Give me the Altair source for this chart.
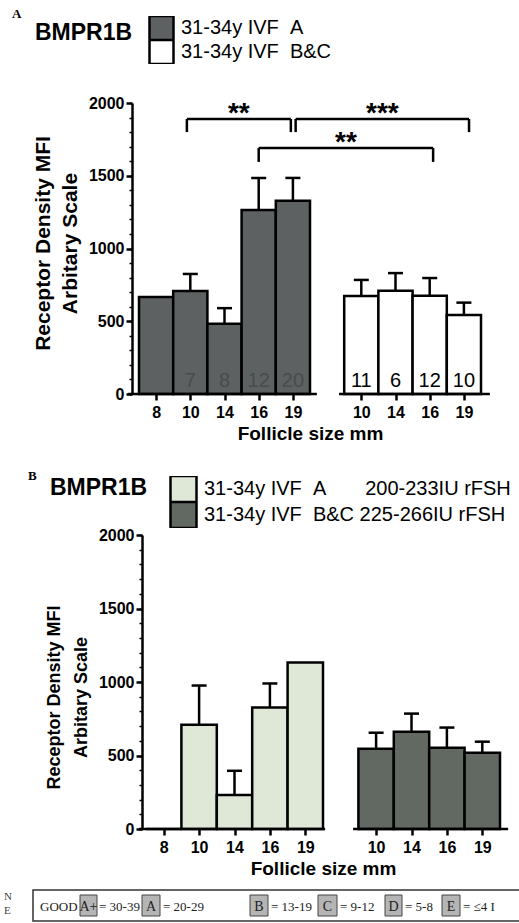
import altair as alt
import pandas as pd

FONT = "Liberation Sans"
SERIF = "Liberation Serif"
NB = "\u00a0"

# ---------------- data ----------------
follicle_left = ["8", "10", "14", "16", "19"]
follicle_right = ["10", "14", "16", "19"]

a_ivfA_mean = [667, 708, 482, 1265, 1329]
a_ivfA_errtop = [None, 825, 590, 1485, 1485]
a_ivfA_n = ["", "7", "8", "12", "20"]
a_ivfBC_mean = [674, 710, 676, 543]
a_ivfBC_errtop = [784, 831, 797, 628]
a_ivfBC_n = ["11", "6", "12", "10"]

b_ivfA_mean = [0, 710, 232, 826, 1133]
b_ivfA_errtop = [None, 976, 396, 990, None]
b_ivfBC_mean = [546, 662, 553, 519]
b_ivfBC_errtop = [655, 785, 690, 594]

legend_a = [f"31-34y IVF{NB*2}A", f"31-34y IVF{NB*2}B&C"]
legend_b = [f"31-34y IVF{NB*2}A{NB*7}200-233IU rFSH",
            f"31-34y IVF{NB*2}B&C{NB}225-266IU rFSH"]

sig_text = ["**", "***", "**"]
sig_from = [1, 4, 3]          # bar slot index
sig_to = [4, 9, 8]
sig_top = [1890, 1890, 1690]
sig_leg = [1800, 1800, 1595]

y_ticks = [0, 500, 1000, 1500, 2000]
y_minor = list(range(0, 2001, 100))

grades = ["A+", "A", "B", "C", "D", "E"]
grade_ranges = ["= 30-39", "= 20-29", "= 13-19", "= 9-12", "= 5-8", "= \u22644 I"]

# ---------------- layout / style ----------------
W, H = 519, 923
sig_nudge_from = [-0.1, 0.08, 0.0]
sig_nudge_to = [-0.06, 0.15, 0.1]

colors_a = ["#5d6162", "#ffffff"]
colors_b = ["#dfe7d6", "#626862"]

grade_x0 = [80, 142, 250, 318, 385, 442]
grade_x1 = [97, 160, 268, 337, 402, 460]
range_x = [99, 163, 271, 340, 405, 463]

GAP_SLOT = len(follicle_left)
tick_slots = list(range(len(follicle_left))) + [GAP_SLOT + 1 + j for j in range(len(follicle_right))]
tick_labels = follicle_left + [""] + follicle_right
label_expr = "[" + ",".join(f"'{t}'" for t in tick_labels) + "][datum.value]"


def build(mean_l, err_l, mean_r, err_r, groups, n_l=None, n_r=None):
    rows = []
    for i, s in enumerate(follicle_left):
        rows.append(dict(slot=i, size=s, mean=mean_l[i], err=err_l[i], group=groups[0],
                         n=(n_l[i] if n_l else "")))
    for j, s in enumerate(follicle_right):
        rows.append(dict(slot=GAP_SLOT + 1 + j, size=s, mean=mean_r[j], err=err_r[j], group=groups[1],
                         n=(n_r[j] if n_r else "")))
    df = pd.DataFrame(rows)
    df["lo"] = df["slot"] - 0.5
    df["hi"] = df["slot"] + 0.5
    df["base"] = 0
    return df


def panel(df, groups, colors, geo, leg, with_n, ytitle_size, title_y, brackets=None):
    xs = alt.Scale(domain=[-0.5, 9.5], range=[geo["x0"], geo["x1"]], nice=False, zero=False)
    ys = alt.Scale(domain=[0, 2000], range=[geo["y0"], geo["y1"]], nice=False, zero=False)

    xaxis = alt.Axis(orient="bottom", offset=geo["y0"] - H, values=tick_slots, labelExpr=label_expr,
                     domain=False, grid=False, tickColor="black", tickWidth=2.5, tickSize=6,
                     labelFont=FONT, labelFontSize=16, labelFontWeight="bold", labelColor="black",
                     labelPadding=4, labelFlush=False, labelOverlap=False,
                     title="Follicle size mm", titleFont=FONT, titleFontSize=19, titleFontWeight="bold",
                     titleColor="black", titlePadding=4)
    yaxis = alt.Axis(orient="left", offset=-geo["axis_x"], values=y_ticks, format="d",
                     domain=True, domainColor="black", domainWidth=2.5, grid=False,
                     tickColor="black", tickWidth=2.5, tickSize=6,
                     labelFont=FONT, labelFontSize=16, labelFontWeight="bold", labelColor="black",
                     labelPadding=2, labelOverlap=False,
                     title=["Receptor Density MFI", "Arbitary Scale"], titleFont=FONT,
                     titleFontSize=ytitle_size, titleFontWeight="bold", titleColor="black",
                     titleLineHeight=27, titlePadding=8, titleY=title_y)
    yminor = alt.Axis(orient="left", offset=-geo["axis_x"], values=y_minor, labels=False, domain=False,
                      grid=False, tickColor="black", tickWidth=1.5, tickSize=3, title=None)

    legend = alt.Legend(orient="none", legendX=leg["x"], legendY=leg["y"], title=None,
                        symbolType="square", symbolSize=leg["size"] ** 2, symbolStrokeColor="black",
                        symbolStrokeWidth=2.5, symbolOpacity=1, labelFont=FONT, labelFontSize=20,
                        labelColor="black", labelLimit=500, labelOffset=6, rowPadding=0,
                        clipHeight=leg["clip"], padding=0, direction="vertical")

    layers = []
    layers.append(
        alt.Chart(df).mark_bar(stroke="black", strokeWidth=2.5).encode(
            x=alt.X("lo:Q", scale=xs, axis=xaxis),
            x2="hi:Q",
            y=alt.Y("mean:Q", scale=ys, axis=yaxis),
            y2="base:Q",
            fill=alt.Fill("group:N", scale=alt.Scale(domain=groups, range=colors), legend=legend),
        )
    )
    err = df[df["err"].notna()]
    layers.append(
        alt.Chart(err).mark_rule(color="black", strokeWidth=2.5).encode(
            x=alt.X("slot:Q", scale=xs, axis=None),
            y=alt.Y("mean:Q", scale=ys, axis=yminor),
            y2="err:Q",
        )
    )
    layers.append(
        alt.Chart(err).mark_tick(orient="horizontal", color="black", size=15, thickness=2.5, opacity=1).encode(
            x=alt.X("slot:Q", scale=xs, axis=None),
            y=alt.Y("err:Q", scale=ys, axis=None),
        )
    )
    base = pd.DataFrame({"x": geo["line_x"], "x2": geo["line_x2"], "y": [0, 0]})
    layers.append(
        alt.Chart(base).mark_rule(color="black", strokeWidth=2.5).encode(
            x=alt.X("x:Q", scale=xs, axis=None), x2="x2:Q",
            y=alt.Y("y:Q", scale=ys, axis=None),
        )
    )
    if with_n:
        left = df[df["slot"] < GAP_SLOT]
        right = df[df["slot"] > GAP_SLOT]
        for part, col in ((left, "#484c4e"), (right, "black")):
            part = part.assign(ny=45)
            layers.append(
                alt.Chart(part).mark_text(font=FONT, fontSize=20, color=col, baseline="alphabetic").encode(
                    x=alt.X("slot:Q", scale=xs, axis=None),
                    y=alt.Y("ny:Q", scale=ys, axis=None),
                    text="n:N",
                )
            )
    if brackets is not None:
        segs = []
        for k in range(len(sig_text)):
            a = sig_from[k] + sig_nudge_from[k]
            b = sig_to[k] + sig_nudge_to[k]
            segs.append(dict(x=a, x2=b, y=sig_top[k], y2=sig_top[k]))
            segs.append(dict(x=a, x2=a, y=sig_leg[k], y2=sig_top[k]))
            segs.append(dict(x=b, x2=b, y=sig_leg[k], y2=sig_top[k]))
        segs = pd.DataFrame(segs)
        layers.append(
            alt.Chart(segs).mark_rule(color="black", strokeWidth=2.5).encode(
                x=alt.X("x:Q", scale=xs, axis=None), x2="x2:Q",
                y=alt.Y("y:Q", scale=ys, axis=None), y2="y2:Q",
            )
        )
        stars = pd.DataFrame({
            "t": sig_text,
            "x": [(sig_from[k] + sig_nudge_from[k] + sig_to[k] + sig_nudge_to[k]) / 2 for k in range(len(sig_text))],
            "y": sig_top,
        })
        layers.append(
            alt.Chart(stars).mark_text(font=FONT, fontSize=28, fontWeight="bold", baseline="alphabetic",
                                       dy=3, color="black").encode(
                x=alt.X("x:Q", scale=xs, axis=None),
                y=alt.Y("y:Q", scale=ys, axis=None),
                text="t:N",
            )
        )
    return layers


def label(text, x, y, size, weight="normal", font=FONT, align="left", color="black"):
    return alt.Chart(pd.DataFrame({"t": [text]})).mark_text(
        align=align, baseline="alphabetic", font=font, fontSize=size, fontWeight=weight, color=color
    ).encode(x=alt.value(x), y=alt.value(y), text="t:N")


geo_a = dict(x0=139, x1=481, y0=394, y1=103, axis_x=132, line_x=[-0.82, 5.35], line_x2=[4.7, 9.76])
geo_b = dict(x0=146, x1=500, y0=829, y1=535, axis_x=142, line_x=[-0.7, 5.35], line_x2=[4.56, 9.73])

df_a = build(a_ivfA_mean, a_ivfA_errtop, a_ivfBC_mean, a_ivfBC_errtop, legend_a, a_ivfA_n, a_ivfBC_n)
df_b = build(b_ivfA_mean, b_ivfA_errtop, b_ivfBC_mean, b_ivfBC_errtop, legend_b)

layers = []
layers += panel(df_a, legend_a, colors_a, geo_a, dict(x=148, y=16, size=24, clip=24), True, 21, 243, brackets=True)
layers += panel(df_b, legend_b, colors_b, geo_b, dict(x=169, y=476, size=26, clip=26), False, 18, 697)

# headers
layers.append(label("A", 12, 18, 13, "bold", SERIF))
layers.append(label("BMPR1B", 35, 40, 23, "bold"))
layers.append(label("B", 28, 480, 13, "bold", SERIF))
layers.append(label("BMPR1B", 50, 495, 23, "bold"))

# bottom grading strip
strip = alt.Chart(pd.DataFrame({"k": [0]})).mark_rect(fill="white", stroke="#333333", strokeWidth=1.5).encode(
    x=alt.value(33), x2=alt.value(530), y=alt.value(890), y2=alt.value(921))
layers.append(strip)
gdf = pd.DataFrame({"g": grades, "r": grade_ranges, "x0": grade_x0, "x1": grade_x1, "xr": range_x})
gdf["xc"] = (gdf["x0"] + gdf["x1"]) / 2
layers.append(
    alt.Chart(gdf).mark_rect(fill="#b5b5b5", stroke="#444444", strokeWidth=1).encode(
        x=alt.X("x0:Q", scale=None, axis=None), x2="x1:Q", y=alt.value(895), y2=alt.value(916))
)
layers.append(
    alt.Chart(gdf).mark_text(font=SERIF, fontSize=14, align="center", baseline="alphabetic", color="#222222").encode(
        x=alt.X("xc:Q", scale=None, axis=None), y=alt.value(911), text="g:N")
)
layers.append(
    alt.Chart(gdf).mark_text(font=SERIF, fontSize=13, align="left", baseline="alphabetic", color="#222222").encode(
        x=alt.X("xr:Q", scale=None, axis=None), y=alt.value(911), text="r:N")
)
layers.append(label("GOOD", 40, 911, 13, "normal", SERIF, color="#222222"))
layers.append(label("N", 4, 900, 11, "normal", SERIF, color="#444444"))
layers.append(label("E", 4, 914, 11, "normal", SERIF, color="#444444"))

chart = alt.layer(*layers).resolve_scale(
    x="independent", y="independent", fill="independent"
).resolve_axis(
    x="independent", y="independent"
).resolve_legend(
    fill="independent"
).properties(
    width=W, height=H, padding=0, autosize=alt.AutoSizeParams(type="none"), background="white"
).configure_view(stroke=None)

chart.save("out.html", embed_options={"renderer": "svg", "actions": False})
